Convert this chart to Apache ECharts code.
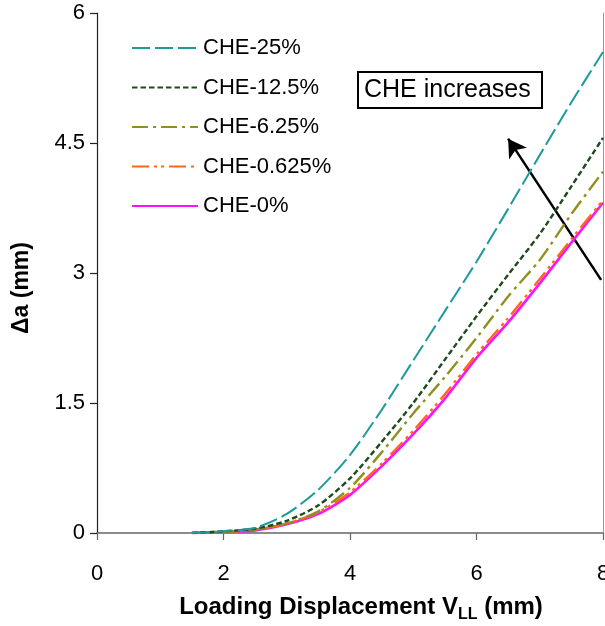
<!DOCTYPE html>
<html>
<head>
<meta charset="utf-8">
<script src="https://cdn.jsdelivr.net/npm/echarts@6/dist/echarts.min.js"></script>
<style>html,body{margin:0;padding:0;background:#fff}#c{width:605px;height:626px}</style>
</head>
<body>
<div id="c"></div>
<script>
// Loading displacement V_LL (mm)
var vll = [1.5, 2, 2.5, 3, 3.5, 4, 4.5, 5, 5.5, 6, 6.5, 7, 7.5, 8];
// Crack extension Δa (mm)
var che25   = [0, 0.02, 0.06, 0.22, 0.50, 0.90, 1.42, 1.99, 2.56, 3.13, 3.74, 4.36, 4.97, 5.55];
var che125  = [0, 0.02, 0.05, 0.14, 0.32, 0.63, 1.05, 1.50, 2.00, 2.50, 2.98, 3.45, 4.00, 4.56];
var che625  = [0, 0.01, 0.04, 0.11, 0.25, 0.52, 0.93, 1.38, 1.80, 2.25, 2.73, 3.15, 3.68, 4.17];
var che0625 = [0, 0.01, 0.04, 0.11, 0.24, 0.47, 0.80, 1.18, 1.60, 2.06, 2.48, 2.93, 3.39, 3.84];
var che0    = [0, 0.01, 0.03, 0.10, 0.22, 0.44, 0.77, 1.14, 1.55, 2.02, 2.43, 2.88, 3.35, 3.81];
var seriesNames = ['CHE-25%', 'CHE-12.5%', 'CHE-6.25%', 'CHE-0.625%', 'CHE-0%'];
var xTicks = [0, 2, 4, 6, 8];
var yTicks = [0, 1.5, 3, 4.5, 6];
var arrowFrom = [7.97, 2.92];
var arrowTo = [6.5, 4.55];
var boxText = 'CHE increases';

function pairs(ys) { return ys.map(function (y, i) { return [vll[i], y]; }); }

var FONT = 'Liberation Sans, Arial, sans-serif';
var styles = [
  { color: '#1d9a9b', width: 2, type: [18, 5] },
  { color: '#1e4a1e', width: 2.4, type: [5.5, 3] },
  { color: '#909020', width: 2.4, type: [16, 5, 3, 5] },
  { color: '#ff6a10', width: 2.4, type: [17, 5, 3, 4, 3, 5] },
  { color: '#ff10ff', width: 2.6, type: 'solid' }
];
var datas = [che25, che125, che625, che0625, che0];

var series = datas.map(function (d, i) {
  return {
    name: seriesNames[i],
    type: 'line',
    data: pairs(d),
    symbol: 'none',
    smooth: 0.25,
    z: 10 - i,
    lineStyle: styles[i],
    itemStyle: { color: styles[i].color }
  };
});
series.push({
  type: 'line',
  data: [],
  silent: true,
  markLine: {
    silent: true,
    symbol: ['none', 'arrow'],
    symbolSize: [16, 18],
    label: { show: false },
    lineStyle: { color: '#000', width: 2.5, type: 'solid' },
    data: [[{ coord: arrowFrom }, { coord: arrowTo }]]
  }
});

var chart = echarts.init(document.getElementById('c'), null, { renderer: 'canvas' });
chart.setOption({
  animation: false,
  backgroundColor: '#fff',
  textStyle: { fontFamily: FONT },
  grid: { left: 97, right: 2, top: 13, bottom: 93, containLabel: false, outerBoundsMode: 'none' },
  legend: {
    orient: 'vertical',
    left: 126,
    top: 31,
    itemWidth: 66,
    itemHeight: 14,
    itemGap: 15.5,
    data: seriesNames,
    itemStyle: { color: 'rgba(0,0,0,0)', borderWidth: 0, opacity: 0 },
    textStyle: { fontSize: 22, color: '#000', fontFamily: FONT, lineHeight: 24, padding: [0, 0, 0, 0] }
  },
  xAxis: {
    type: 'value',
    min: 0, max: 8, interval: 2,
    name: '{b|Loading Displacement V}{s|LL}{b| (mm)}',
    nameLocation: 'middle',
    nameGap: 58,
    nameTextStyle: {
      padding: [0, 0, 0, 22],
      rich: {
        b: { fontSize: 24, fontWeight: 'bold', color: '#000', fontFamily: FONT, lineHeight: 32 },
        s: { fontSize: 16, fontWeight: 'bold', color: '#000', fontFamily: FONT, lineHeight: 16, verticalAlign: 'bottom' }
      }
    },
    axisLine: { show: true, onZero: false, lineStyle: { color: '#666', width: 1.5 } },
    axisTick: { show: true, inside: false, length: 7, lineStyle: { color: '#666', width: 1.2 } },
    axisLabel: {
      fontSize: 22, color: '#000', margin: 30, fontFamily: FONT,
      formatter: function (v) { return xTicks.indexOf(v) >= 0 ? String(v) : ''; }
    },
    splitLine: { show: false }
  },
  yAxis: [{
    type: 'value',
    min: 0, max: 6, interval: 1.5,
    name: 'Δa (mm)',
    nameLocation: 'middle',
    nameGap: 64,
    nameRotate: 90,
    nameTextStyle: { fontSize: 23, fontWeight: 'bold', color: '#000', fontFamily: FONT, padding: [0, 0, 0, -30] },
    axisLine: { show: true, lineStyle: { color: '#222', width: 1.2 } },
    axisTick: { show: true, inside: false, length: 7, lineStyle: { color: '#222', width: 1.2 } },
    axisLabel: {
      fontSize: 22, color: '#000', margin: 12, fontFamily: FONT,
      formatter: function (v) { return yTicks.indexOf(v) >= 0 ? String(v) : ''; }
    },
    splitLine: { show: false }
  }, {
    type: 'value',
    position: 'right',
    min: 0, max: 6, interval: 1.5,
    axisLine: { show: true, lineStyle: { color: '#999', width: 1 } },
    axisTick: { show: false },
    axisLabel: { show: false },
    splitLine: { show: false }
  }],
  graphic: [{
    type: 'rect',
    left: 357, top: 71,
    shape: { width: 184, height: 36 },
    style: { fill: '#fff', stroke: '#000', lineWidth: 2 },
    z: 100
  }, {
    type: 'text',
    left: 364, top: 78,
    style: { text: boxText, font: '25px ' + FONT, fill: '#000' },
    z: 101
  }],
  series: series
});
</script>
</body>
</html>
